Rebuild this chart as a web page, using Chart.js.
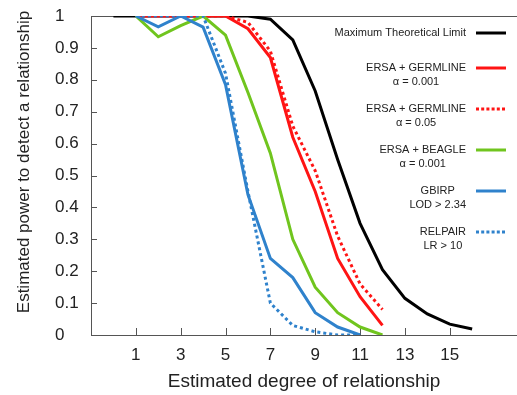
<!DOCTYPE html>
<html>
<head>
<meta charset="utf-8">
<script src="https://cdn.jsdelivr.net/npm/chart.js@4.4.1/dist/chart.umd.min.js"></script>
<style>
  html, body { margin: 0; padding: 0; background: #fff; }
  #wrap { width: 517px; height: 395px; position: relative; }
</style>
</head>
<body>
<div id="wrap"><canvas id="powerChart"></canvas></div>
<script>
// Dane
const degreesTheory = [0, 1, 2, 3, 4, 5, 6, 7, 8, 9, 10, 11, 12, 13, 14, 15, 16];
const degreesErsa = [1, 2, 3, 4, 5, 6, 7, 8, 9, 10, 11, 12];
const degreesOther = [1, 2, 3, 4, 5, 6, 7, 8, 9, 10, 11];

const maxTheoretical = [1, 1, 1, 1, 1, 1, 1, 0.99, 0.925, 0.765, 0.55, 0.35, 0.205, 0.115, 0.066, 0.034, 0.019];
const germline001 = [1, 1, 1, 1, 1, 0.96, 0.87, 0.62, 0.45, 0.24, 0.12, 0.03];
const germline05 = [1, 1, 1, 1, 1, 0.98, 0.89, 0.655, 0.515, 0.31, 0.16, 0.08];
const beagle001 = [1, 0.935, 0.97, 1, 0.94, 0.76, 0.57, 0.3, 0.15, 0.07, 0.025, 0];
const gbirp = [1, 0.966, 1, 0.965, 0.785, 0.44, 0.24, 0.18, 0.07, 0.025, 0];
const relpair = [1, 1, 1, 1, 0.82, 0.45, 0.1, 0.03, 0.01, 0, 0];

const xTicks = [1, 3, 5, 7, 9, 11, 13, 15];
const yTicks = [0, 0.1, 0.2, 0.3, 0.4, 0.5, 0.6, 0.7, 0.8, 0.9, 1];

const seriesNames = [
    ['Maximum Theoretical Limit'],
    ['ERSA + GERMLINE', 'α = 0.001'],
    ['ERSA + GERMLINE', 'α = 0.05'],
    ['ERSA + BEAGLE', 'α = 0.001'],
    ['GBIRP', 'LOD > 2.34'],
    ['RELPAIR', 'LR > 10']
];

const FONT = '"Liberation Sans", Arial, Helvetica, sans-serif';
const TEXT = '#222';
const AXIS = '#555';

const toPoints = (xs, ys) => xs.map((x, i) => ({ x: x, y: ys[i] }));

const styles = [
    { color: '#000000', dash: [] },
    { color: '#ff1414', dash: [] },
    { color: '#ff1414', dash: [3, 3] },
    { color: '#70c51e', dash: [] },
    { color: '#2f82cc', dash: [] },
    { color: '#2f82cc', dash: [3, 3] }
];

const seriesData = [
    toPoints(degreesTheory, maxTheoretical),
    toPoints(degreesErsa, germline001),
    toPoints(degreesErsa, germline05),
    toPoints(degreesErsa, beagle001),
    toPoints(degreesOther, gbirp),
    toPoints(degreesOther, relpair)
];

// kolejnosc rysowania: czarna na spodzie, potem reszta
const datasets = seriesData.map((d, i) => ({
    label: seriesNames[i].join(' '),
    data: d,
    borderColor: styles[i].color,
    borderDash: styles[i].dash,
    borderWidth: 3,
    pointRadius: 0,
    fill: false,
    tension: 0,
    order: 6 - i
}));

// ramka, znaczniki do srodka, tytul osi Y, legenda
const decorations = {
    id: 'decorations',
    beforeDatasetsDraw(chart) {
        const { ctx, chartArea, scales } = chart;
        ctx.save();
        ctx.strokeStyle = AXIS;
        ctx.lineWidth = 1;
        ctx.beginPath();
        ctx.moveTo(chartArea.left, chartArea.top + 0.5);
        ctx.lineTo(chartArea.right, chartArea.top + 0.5);
        yTicks.forEach(v => {
            const y = Math.round(scales.y.getPixelForValue(v)) + 0.5;
            ctx.moveTo(chartArea.left, y);
            ctx.lineTo(chartArea.left + 6, y);
        });
        xTicks.forEach(v => {
            const x = Math.round(scales.x.getPixelForValue(v)) + 0.5;
            ctx.moveTo(x, chartArea.bottom);
            ctx.lineTo(x, chartArea.bottom - 7);
        });
        ctx.stroke();
        ctx.restore();
    },
    afterDraw(chart) {
        const { ctx } = chart;
        ctx.save();
        // tytul osi Y
        ctx.translate(24, 162);
        ctx.rotate(-Math.PI / 2);
        ctx.fillStyle = TEXT;
        ctx.font = '17px ' + FONT;
        ctx.textAlign = 'center';
        ctx.textBaseline = 'middle';
        ctx.fillText('Estimated power to detect a relationship', 0, 0);
        ctx.restore();

        // legenda
        ctx.save();
        ctx.font = '11px ' + FONT;
        ctx.textBaseline = 'middle';
        ctx.textAlign = 'center';
        const textRight = 466;
        const lineLeft = 476;
        const lineRight = 506;
        let y = 33;
        seriesNames.forEach((lines, i) => {
            const w = Math.max(...lines.map(t => ctx.measureText(t).width));
            const cx = textRight - w / 2;
            ctx.fillStyle = TEXT;
            lines.forEach((t, j) => ctx.fillText(t, cx, y + j * 14));
            ctx.strokeStyle = styles[i].color;
            ctx.lineWidth = 3;
            ctx.setLineDash(styles[i].dash.length ? [3, 2.2] : []);
            ctx.beginPath();
            ctx.moveTo(lineLeft, y);
            ctx.lineTo(lineRight, y);
            ctx.stroke();
            y += lines.length === 1 ? 35 : 41;
        });
        ctx.restore();
    }
};

const ctx = document.getElementById('powerChart').getContext('2d');

const chart = new Chart(ctx, {
    type: 'line',
    data: { datasets: datasets },
    options: {
        responsive: true,
        maintainAspectRatio: false,
        animation: false,
        layout: {
            padding: { top: 16, left: 55, right: 0, bottom: 0 }
        },
        plugins: {
            legend: { display: false },
            tooltip: { enabled: false }
        },
        scales: {
            x: {
                type: 'linear',
                min: -1,
                max: 18,
                grid: { display: false, drawTicks: false },
                border: { display: true, color: AXIS, width: 1 },
                afterBuildTicks: scale => {
                    scale.ticks = xTicks.map(v => ({ value: v }));
                },
                afterFit: scale => { scale.height = 60; },
                ticks: {
                    padding: 10,
                    color: TEXT,
                    font: { family: FONT, size: 17 },
                    callback: v => String(v)
                },
                title: {
                    display: true,
                    text: 'Estimated degree of relationship',
                    color: TEXT,
                    font: { family: FONT, size: 19 },
                    padding: { top: 4, bottom: 2 }
                }
            },
            y: {
                min: 0,
                max: 1,
                grid: { display: false, drawTicks: false },
                border: { display: true, color: AXIS, width: 1 },
                afterBuildTicks: scale => {
                    scale.ticks = yTicks.map(v => ({ value: v }));
                },
                afterFit: scale => { scale.width = 36; },
                ticks: {
                    crossAlign: 'far',
                    color: TEXT,
                    font: { family: FONT, size: 17 },
                    callback: v => String(v)
                }
            }
        }
    },
    plugins: [decorations]
});
</script>
</body>
</html>
